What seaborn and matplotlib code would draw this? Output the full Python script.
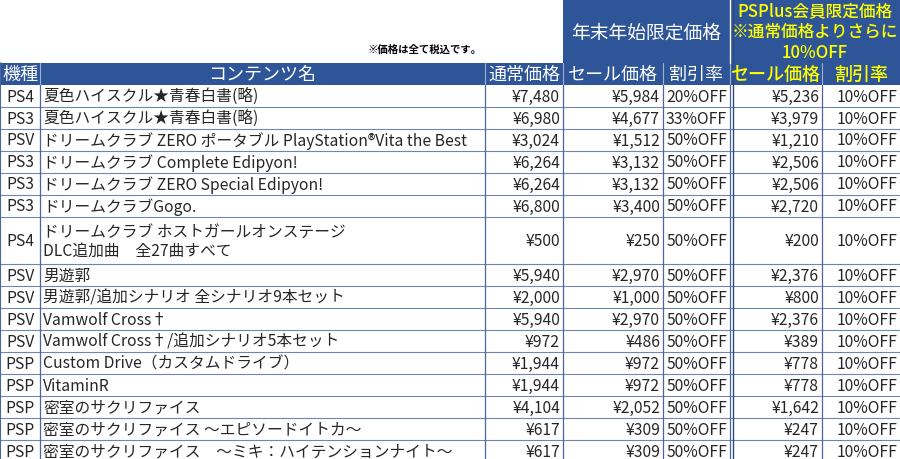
import matplotlib
matplotlib.use("Agg")
import matplotlib.pyplot as plt
from matplotlib.patches import Rectangle
import seaborn as sns

sns.set_theme(style="white", font="Noto Sans CJK JP")

platforms = ["PS4", "PS3", "PSV", "PS3", "PS3", "PS3", "PS4", "PSV", "PSV", "PSV", "PSV",
             "PSP", "PSP", "PSP", "PSP", "PSP"]
titles = ["夏色ハイスクル★青春白書(略)", "夏色ハイスクル★青春白書(略)",
          "ドリームクラブ ZERO ポータブル PlayStation®Vita the Best",
          "ドリームクラブ Complete Edipyon!", "ドリームクラブ ZERO Special Edipyon!",
          "ドリームクラブGogo.", "ドリームクラブ ホストガールオンステージ\nDLC追加曲　全27曲すべて",
          "男遊郭", "男遊郭/追加シナリオ 全シナリオ9本セット", "Vamwolf Cross†",
          "Vamwolf Cross†/追加シナリオ5本セット", "Custom Drive（カスタムドライブ）", "VitaminR",
          "密室のサクリファイス", "密室のサクリファイス ～エピソードイトカ～",
          "密室のサクリファイス　～ミキ：ハイテンションナイト～"]
regular = [7480, 6980, 3024, 6264, 6264, 6800, 500, 5940, 2000, 5940, 972, 1944, 1944, 4104, 617, 617]
sale = [5984, 4677, 1512, 3132, 3132, 3400, 250, 2970, 1000, 2970, 486, 972, 972, 2052, 309, 309]
discount = [20, 33, 50, 50, 50, 50, 50, 50, 50, 50, 50, 50, 50, 50, 50, 50]
plus_sale = [5236, 3979, 1210, 2506, 2506, 2720, 200, 2376, 800, 2376, 389, 778, 778, 1642, 247, 247]
plus_discount = [10] * 16
row_units = [1, 1, 1, 1, 1, 1, 2.15, 1, 1, 1, 1, 1, 1, 1, 1, 1]

BLUE = "#2E5597"
YEL = "#FFFF00"
cols = [0, 40, 485, 563, 663, 730, 822, 900]

fig = plt.figure(figsize=(9, 4.6), dpi=100)
ax = fig.add_axes([0, 0, 1, 1])
ax.set_xlim(0, 900)
ax.set_ylim(460, 0)
ax.axis("off")

fs = 11.3
ax.add_patch(Rectangle((563, 0), 337, 64, color=BLUE, lw=0))
ax.text(646, 33, "年末年始限定価格", color="white", fontsize=13.5, ha="center", va="center")
ax.text(815, 32, "PSPlus会員限定価格\n※通常価格よりさらに\n10%OFF", color=YEL, fontsize=12,
        ha="center", va="center", linespacing=1.2, fontweight="medium")
ax.text(482, 50, "※価格は全て税込です。", color="black", fontsize=7.5, ha="right", va="center",
        fontweight="bold")
ax.add_patch(Rectangle((0, 64), 900, 22, color=BLUE, lw=0))
hdr = ["機種", "コンテンツ名", "通常価格", "セール価格", "割引率", "セール価格", "割引率"]
for i, h in enumerate(hdr):
    c = YEL if i >= 5 else "white"
    ax.text((cols[i] + cols[i + 1]) / 2, 75, h, color=c, fontsize=13, ha="center", va="center",
            fontweight="medium" if i >= 5 else "normal")
for x in cols[1:-1]:
    ax.plot([x, x], [64, 86], color="#9DB1D6", lw=0.8)

y = 86
rh = 22
for i in range(len(platforms)):
    h = rh * row_units[i]
    cy = y + h / 2
    ax.text(20, cy, platforms[i], fontsize=fs, ha="center", va="center")
    ax.text(43, cy, titles[i], fontsize=fs, ha="left", va="center", linespacing=1.2)
    vals = [f"¥{regular[i]:,}", f"¥{sale[i]:,}", f"{discount[i]}%OFF",
            f"¥{plus_sale[i]:,}", f"{plus_discount[i]}%OFF"]
    for j, v in enumerate(vals):
        ax.text(cols[j + 3] - 3, cy, v, fontsize=fs, ha="right", va="center")
    y += h
    ax.plot([0, 900], [y, y], color="#6F86B5", lw=0.8)
for x in cols[1:-1]:
    ax.plot([x, x], [86, 460], color="#4A66A0", lw=0.9)
ax.plot([0, 0], [64, 460], color="#4A66A0", lw=1.5)
ax.plot([733, 733], [0, 460], color="#2E4A80", lw=1.0)
ax.plot([730, 730], [0, 64], color="white", lw=1.0)

fig.savefig("out.png", dpi=100)
